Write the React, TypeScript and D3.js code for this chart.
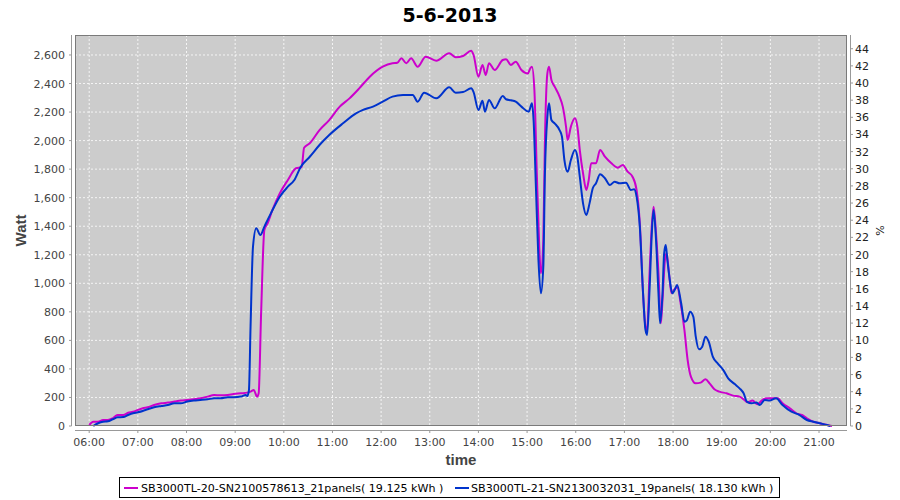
import React from "react";
import * as d3 from "d3";

const TITLE = "5-6-2013";
const X_LABEL = "time";
const Y_LEFT_LABEL = "Watt";
const Y_RIGHT_LABEL = "%";

const X_DOMAIN = ["05:42:30", "21:34:30"];
const X_TICKS = ["06:00", "07:00", "08:00", "09:00", "10:00", "11:00", "12:00", "13:00", "14:00", "15:00", "16:00", "17:00", "18:00", "19:00", "20:00", "21:00"];
const Y_LEFT_MAX = 2740;
const Y_LEFT_TICKS = [0, 200, 400, 600, 800, 1000, 1200, 1400, 1600, 1800, 2000, 2200, 2400, 2600];
const Y_RIGHT_MAX = 45.6;
const Y_RIGHT_TICKS = [0, 2, 4, 6, 8, 10, 12, 14, 16, 18, 20, 22, 24, 26, 28, 30, 32, 34, 36, 38, 40, 42, 44];

const SERIES_NAMES = [
  "SB3000TL-20-SN2100578613_21panels( 19.125 kWh )",
  "SB3000TL-21-SN2130032031_19panels( 18.130 kWh )",
];
const SERIES_COLORS = ["#cc00cc", "#0033cc"];

const times1 = ["06:00","06:05","06:11","06:17","06:23","06:29","06:35","06:42","06:48","06:54","07:00","07:06","07:12","07:20","07:29","07:37","07:45","07:53","08:01","08:09","08:17","08:26","08:34","08:42","08:51","08:58","09:07","09:15","09:19","09:23","09:27","09:29","09:32","09:36","09:40","09:46","09:55","10:05","10:15","10:22","10:25","10:32","10:44","10:56","11:09","11:21","11:33","11:46","12:02","12:14","12:20","12:25","12:31","12:37","12:45","12:55","13:08","13:24","13:32","13:41","13:51","13:54","14:00","14:05","14:09","14:13","14:20","14:30","14:34","14:40","14:46","14:53","15:01","15:04","15:06","15:09","15:12","15:15","15:17","15:20","15:22","15:25","15:27","15:30","15:34","15:40","15:44","15:48","15:50","15:54","15:59","16:02","16:05","16:09","16:13","16:16","16:19","16:25","16:30","16:36","16:44","16:52","16:58","17:04","17:10","17:15","17:19","17:23","17:26","17:28","17:31","17:34","17:36","17:39","17:42","17:45","17:47","17:50","17:52","17:55","17:58","18:01","18:05","18:10","18:14","18:18","18:22","18:28","18:34","18:40","18:45","18:51","18:57","19:06","19:14","19:22","19:28","19:32","19:38","19:44","19:51","19:57","20:03","20:09","20:15","20:24","20:32","20:39","20:45","20:53","21:01","21:10","21:16"];
const watts1 = [7,30,30,42,42,54,77,77,93,100,112,124,131,147,159,164,171,178,182,187,194,206,217,215,218,224,229,234,241,252,206,230,790,1374,1420,1514,1630,1724,1806,1815,1950,1981,2074,2144,2238,2296,2366,2448,2518,2542,2545,2577,2542,2577,2518,2588,2560,2612,2584,2593,2630,2600,2448,2530,2460,2542,2495,2565,2570,2530,2553,2495,2471,2507,2518,2355,1771,1257,1070,1303,2004,2471,2518,2425,2378,2308,2238,2098,2004,2098,2156,2098,1934,1771,1654,1724,1841,1841,1934,1887,1841,1810,1829,1782,1747,1654,1420,930,696,673,1070,1420,1537,1350,1070,720,883,1163,1210,1070,930,953,972,836,673,462,346,299,304,327,299,257,241,229,213,206,182,166,178,152,187,194,194,194,159,124,89,77,54,30,19,7,0];

const times2 = ["06:05","06:11","06:17","06:23","06:29","06:35","06:42","06:48","06:54","07:00","07:06","07:12","07:20","07:29","07:37","07:45","07:53","08:01","08:09","08:17","08:26","08:34","08:42","08:51","08:58","09:07","09:13","09:15","09:17","09:19","09:22","09:26","09:31","09:36","09:44","09:55","10:05","10:13","10:21","10:32","10:44","10:56","11:13","11:29","11:37","11:50","12:02","12:14","12:27","12:39","12:45","12:53","13:08","13:24","13:32","13:41","13:51","13:54","14:00","14:05","14:08","14:13","14:20","14:30","14:34","14:40","14:46","14:53","15:02","15:06","15:08","15:11","15:14","15:17","15:20","15:22","15:25","15:27","15:30","15:34","15:40","15:43","15:46","15:50","15:54","15:59","16:02","16:05","16:09","16:13","16:17","16:21","16:25","16:30","16:36","16:42","16:48","16:54","17:02","17:08","17:12","17:15","17:19","17:23","17:26","17:28","17:31","17:34","17:36","17:39","17:42","17:44","17:47","17:49","17:51","17:53","17:56","17:59","18:02","18:05","18:10","18:14","18:17","18:21","18:25","18:28","18:32","18:36","18:40","18:44","18:49","18:55","19:02","19:08","19:16","19:22","19:27","19:31","19:37","19:43","19:47","19:53","19:59","20:07","20:15","20:26","20:36","20:45","20:53","21:01","21:10","21:14"];
const watts2 = [0,19,30,33,47,61,63,77,89,96,105,117,131,140,147,159,159,171,178,182,187,194,194,201,201,206,217,210,252,700,1257,1385,1338,1397,1490,1607,1677,1724,1817,1887,1969,2039,2121,2191,2214,2238,2273,2308,2320,2320,2273,2336,2296,2373,2336,2340,2366,2340,2214,2280,2203,2285,2226,2313,2290,2283,2273,2238,2203,2261,2144,1654,1163,930,1117,1771,2168,2261,2144,2121,2074,2028,1864,1782,1864,1934,1887,1747,1560,1479,1560,1666,1701,1764,1736,1689,1712,1701,1705,1654,1659,1607,1397,930,673,638,953,1373,1514,1303,930,720,930,1210,1268,1163,1023,930,953,988,860,731,740,801,766,626,537,556,626,591,486,439,392,334,294,264,229,171,159,165,147,182,178,194,147,100,77,42,30,19,7,0];

const W = 900;
const H = 500;
const PL = 75, PR = 847, PT = 35, PB = 426;

const parseT = (s: string) => {
  const p = s.split(":").map(Number);
  return new Date(2013, 5, 5, p[0], p[1], p[2] || 0);
};

export default function App() {
  const x = d3.scaleTime().domain(X_DOMAIN.map(parseT)).range([PL, PR]);
  const yL = d3.scaleLinear().domain([0, Y_LEFT_MAX]).range([PB, PT]);
  const yR = d3.scaleLinear().domain([0, Y_RIGHT_MAX]).range([PB, PT]);
  const fmtL = d3.format(",");

  const series = [
    times1.map((t, i) => ({ t: parseT(t), v: watts1[i] })),
    times2.map((t, i) => ({ t: parseT(t), v: watts2[i] })),
  ];
  const line = d3
    .line<{ t: Date; v: number }>()
    .x((d) => x(d.t))
    .y((d) => yL(d.v))
    .curve(d3.curveMonotoneX);

  const font = "'DejaVu Sans', sans-serif";

  return (
    <svg width={W} height={H} style={{ position: "absolute", left: 0, top: 0, display: "block", background: "#fff" }}>
      <text x={450} y={22} textAnchor="middle" fontFamily={font} fontWeight="bold" fontSize={19} fill="#000">
        {TITLE}
      </text>

      <rect x={PL} y={PT} width={PR - PL} height={PB - PT} fill="#cccccc" />
      <g stroke="#ffffff" strokeWidth={0.8} strokeDasharray="2,2">
        {X_TICKS.map((t) => (
          <line key={t} x1={x(parseT(t))} x2={x(parseT(t))} y1={PT} y2={PB} />
        ))}
        {Y_LEFT_TICKS.map((v) => (
          <line key={v} x1={PL} x2={PR} y1={yL(v)} y2={yL(v)} />
        ))}
      </g>

      <g fill="none" strokeWidth={2} strokeLinejoin="round">
        {series.map((s, i) => (
          <path key={i} d={line(s) || ""} stroke={SERIES_COLORS[i]} />
        ))}
      </g>

      <rect x={PL + 0.5} y={PT + 0.5} width={PR - PL - 1} height={PB - PT - 1} fill="none" stroke="#7a7a7a" strokeWidth={1} />

      {/* left axis */}
      <line x1={71.5} x2={71.5} y1={PT} y2={PB} stroke="#999" />
      {Y_LEFT_TICKS.map((v) => (
        <g key={v}>
          <line x1={69} x2={71.5} y1={yL(v)} y2={yL(v)} stroke="#999" />
          <text x={65} y={yL(v) + 4} textAnchor="end" fontFamily={font} fontSize={11} fill="#444">
            {fmtL(v)}
          </text>
        </g>
      ))}
      <text transform={`translate(26,${(PT + PB) / 2}) rotate(-90)`} textAnchor="middle" fontFamily="'Liberation Sans', sans-serif" fontWeight="bold" fontSize={15} fill="#444">
        {Y_LEFT_LABEL}
      </text>

      {/* right axis */}
      <line x1={850.5} x2={850.5} y1={PT} y2={PB} stroke="#999" />
      {Y_RIGHT_TICKS.map((v) => (
        <g key={v}>
          <line x1={850.5} x2={853} y1={yR(v)} y2={yR(v)} stroke="#999" />
          <text x={855} y={yR(v) + 4} textAnchor="start" fontFamily={font} fontSize={11} fill="#222">
            {v}
          </text>
        </g>
      ))}
      <text transform={`translate(884,${(PT + PB) / 2}) rotate(-90)`} textAnchor="middle" fontFamily={font} fontSize={11} fill="#222">
        {Y_RIGHT_LABEL}
      </text>

      {/* bottom axis */}
      <line x1={PL} x2={PR} y1={430.5} y2={430.5} stroke="#999" />
      {X_TICKS.map((t) => (
        <g key={t}>
          <line x1={x(parseT(t))} x2={x(parseT(t))} y1={430.5} y2={433} stroke="#999" />
          <text x={x(parseT(t))} y={446} textAnchor="middle" fontFamily={font} fontSize={11} fill="#444">
            {t}
          </text>
        </g>
      ))}
      <text x={(PL + PR) / 2} y={465} textAnchor="middle" fontFamily="'Liberation Sans', sans-serif" fontWeight="bold" fontSize={15} fill="#444">
        {X_LABEL}
      </text>

      {/* legend */}
      <rect x={119.5} y={477.5} width={660} height={20} fill="#fff" stroke="#000" />
      <line x1={124} x2={138} y1={488} y2={488} stroke={SERIES_COLORS[0]} strokeWidth={2} />
      <text x={141} y={492} fontFamily={font} fontSize={11.1} fill="#000">
        {SERIES_NAMES[0]}
      </text>
      <line x1={455} x2={469} y1={488} y2={488} stroke={SERIES_COLORS[1]} strokeWidth={2} />
      <text x={471} y={492} fontFamily={font} fontSize={11.1} fill="#000">
        {SERIES_NAMES[1]}
      </text>
    </svg>
  );
}
